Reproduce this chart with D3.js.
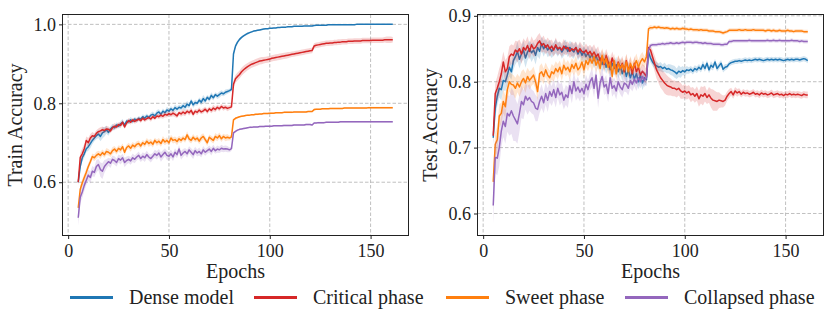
<!DOCTYPE html>
<html>
<head>
<meta charset="utf-8">
<title>Train / Test accuracy</title>
<script src="https://d3js.org/d3.v7.min.js"></script>
<style>
  body { margin: 0; background: #fff; }
</style>
</head>
<body>
<svg id="viz" width="831" height="324"></svg>
<script>
// epochs 5..161, one value per epoch
var epochs = d3.range(5, 162);
var seriesNames = ["Dense model", "Critical phase", "Sweet phase", "Collapsed phase"];
var seriesColors = ["#1f77b4", "#d62728", "#ff7f0e", "#9467bd"];
var xTicks = [0, 50, 100, 150];
var trainTicks = [0.6, 0.8, 1.0];
var testTicks = [0.6, 0.7, 0.8, 0.9];

// all accuracies below are in thousandths (600 = 0.600)
var trainDense = [
  600,640,662,672,685,690,698,706,712,718,
  722,716,725,728,733,726,735,740,738,745,
  742,748,752,745,755,753,758,754,760,757,
  762,760,766,762,768,764,770,772,768,775,
  778,772,780,776,783,780,786,782,789,785,
  790,788,794,790,798,794,806,796,802,800,
  808,803,812,806,815,810,820,814,822,818,
  822,826,824,828,830,832,835,925,945,955,962,
  967,971,974,977,979,981,983,984,985,986,
  987,988,989,989,990,990,991,991,992,992,
  993,993,993,994,994,994,995,995,995,995,
  995,996,996,996,996,996,997,998,998,998,
  998,998,998,999,999,999,999,999,999,999,
  999,999,999,999,999,999,999,1000,1000,1000,
  1000,1000,1000,1000,1000,1000,1000,1000,1000,1000,
  1000,1000,1000,1000,1000,1000];
var trainCritical = [
  600,663,672,685,706,700,712,718,716,724,
  728,730,733,731,735,734,730,738,742,740,
  746,744,752,740,750,756,752,758,754,757,
  760,756,762,758,761,764,760,766,762,768,
  766,770,767,772,770,774,771,775,772,768,
  776,773,778,774,780,776,782,772,780,777,
  783,778,781,785,779,786,782,788,784,790,
  786,792,788,790,787,789,791,848,862,868,873,
  880,885,889,893,896,899,901,903,905,907,
  908,909,910,911,912,914,915,916,917,918,
  919,920,921,922,923,924,925,926,927,928,
  929,930,931,932,933,934,945,947,948,949,
  950,951,952,952,953,953,954,954,955,955,
  956,956,956,957,957,957,958,958,958,958,
  959,959,959,959,959,960,960,960,960,960,
  960,961,961,961,961,961];
var trainSweet = [
  535,582,598,612,625,640,652,665,662,668,
  672,668,675,670,678,676,672,680,684,678,
  686,682,690,676,688,692,686,694,690,696,
  698,692,700,696,704,698,702,696,706,700,
  704,698,708,702,706,700,712,706,708,703,
  710,706,712,708,720,710,706,714,708,712,
  704,712,716,708,700,714,710,706,716,712,
  718,710,716,712,714,712,715,758,762,764,766,
  767,768,769,770,770,771,771,772,772,773,
  773,774,774,774,775,775,775,776,776,776,
  776,777,777,777,777,777,778,778,778,778,
  778,778,778,779,779,779,784,785,785,785,
  786,786,786,786,787,787,787,787,787,787,
  787,788,788,788,788,788,788,788,788,788,
  788,788,788,789,789,789,789,789,789,789,
  789,789,789,789,789,789];
var trainCollapsed = [
  510,562,575,592,605,618,612,628,625,640,
  645,632,628,640,646,652,648,658,655,650,
  660,656,662,650,655,658,654,662,658,664,
  668,660,666,662,670,664,660,666,672,668,
  674,664,670,676,668,666,672,664,676,670,
  684,668,674,678,672,682,676,670,680,674,
  678,672,682,676,680,684,678,686,680,684,
  682,686,684,685,684,682,685,725,729,732,734,
  735,736,737,738,739,739,740,740,740,741,
  741,741,742,742,742,742,743,743,743,743,
  743,744,744,744,744,744,745,745,745,745,
  745,745,746,746,746,745,750,750,751,751,
  751,751,752,752,752,752,752,752,752,753,
  753,753,753,753,753,753,753,753,753,753,
  753,753,753,753,753,753,753,753,753,753,
  753,753,753,753,753,753];

var testDense = [
  715,760,778,790,788,802,800,810,822,815,
  832,838,846,834,842,848,836,845,850,844,
  848,840,852,846,858,850,855,848,852,846,
  850,854,848,852,845,850,854,846,852,848,
  845,852,842,848,840,846,838,844,836,842,
  832,840,830,836,826,834,822,830,818,828,
  820,826,815,824,812,822,808,818,806,815,
  804,812,800,810,798,806,803,845,836,830,826,
  824,822,823,820,822,819,820,818,817,815,
  812,816,814,817,815,818,817,819,816,820,
  818,822,819,826,820,828,818,825,822,830,
  820,824,828,819,822,823,827,829,830,831,
  831,832,831,832,833,832,833,832,833,834,
  833,834,833,832,833,834,833,834,833,834,
  833,834,833,832,833,834,833,834,833,834,
  834,833,834,835,834,832];
var testCritical = [
  718,782,790,800,812,830,815,820,838,842,
  840,848,845,850,842,852,848,855,846,856,
  850,852,858,862,855,858,852,856,850,854,
  848,856,850,852,848,854,850,852,846,850,
  848,852,845,850,846,844,848,842,846,840,
  845,838,842,832,838,826,840,830,822,836,
  826,818,830,820,828,815,832,818,825,812,
  828,815,822,810,816,812,808,852,848,838,828,
  818,812,806,802,798,795,793,792,790,790,
  788,790,786,784,786,783,785,780,782,778,
  782,774,780,778,782,776,780,775,772,771,
  770,772,771,770,772,778,782,785,780,786,
  783,785,781,784,782,783,781,782,784,781,
  782,780,783,781,782,780,781,783,780,781,
  782,780,781,779,781,780,782,780,781,780,
  781,780,779,781,780,780];
var testSweet = [
  648,705,712,748,752,770,762,788,800,796,
  795,790,798,792,800,805,798,808,802,806,
  810,800,785,812,815,808,818,810,806,815,
  812,820,815,822,812,825,818,822,815,826,
  820,828,818,822,830,818,832,826,835,828,
  838,825,832,820,840,828,835,822,830,808,
  832,812,828,820,826,818,830,815,828,820,
  825,832,822,830,835,830,838,880,882,882,883,
  882,883,882,882,881,882,881,880,881,880,
  881,880,880,881,880,880,879,880,879,879,
  879,878,879,878,878,878,877,877,877,876,
  876,876,875,874,875,876,878,878,878,878,
  878,879,878,878,879,878,878,878,879,878,
  878,878,878,878,877,878,878,877,878,877,
  877,878,877,877,877,878,877,877,876,877,
  877,877,877,876,876,876];
var testCollapsed = [
  612,685,684,700,725,740,732,752,748,756,
  748,742,736,752,770,765,778,772,776,770,
  768,760,758,770,778,768,782,772,785,778,
  788,776,790,780,784,772,780,776,794,782,
  800,786,792,784,790,782,796,788,800,806,
  790,810,775,798,808,792,796,782,806,790,
  794,786,800,792,788,798,796,790,802,796,
  804,798,806,800,808,802,806,848,855,856,856,
  856,857,857,858,857,858,858,859,858,858,
  859,858,859,860,859,860,860,860,859,860,
  860,859,859,858,859,858,858,858,857,857,
  857,857,856,856,857,857,861,861,862,862,
  862,862,862,862,862,862,863,862,862,862,
  862,862,862,862,862,863,862,862,863,862,
  862,863,862,862,862,862,862,863,862,862,
  862,861,862,861,861,861];

// std across runs (thousandths), drawn as the shaded band
var trainDenseStd = [
  6,8,10,10,9,10,12,10,8,9, 10,12,14,12,10,8,7,8,6,7,
  6,7,8,6,5,6,7,6,5,6, 6,5,6,7,6,5,6,7,6,8,
  7,6,7,6,8,6,7,6,8,7, 6,7,8,9,8,7,6,8,7,6,
  7,8,9,8,6,7,8,7,6,7, 8,7,6,7,6,5,6,6,5,4,4,
  3,3,3,3,2,2,2,2,2,2, 2,2,2,2,2,1,1,1,1,1,
  1,1,1,1,1,1,1,1,1,1, 1,1,1,1,1,1,1,1,1,1,
  1,1,1,1,1,1,1,1,1,1, 1,1,1,1,1,1,1,1,1,1,
  1,1,1,1,1,1,1,1,1,1, 1,1,1,1,1,1];
var trainCriticalStd = [
  8,12,14,12,10,12,10,9,8,8, 8,9,8,7,8,7,6,7,8,6,
  6,7,6,5,6,7,6,5,6,6, 5,6,5,6,5,6,7,6,5,6,
  6,7,6,8,6,7,6,8,7,6, 6,7,8,7,6,7,8,7,6,7,
  7,6,7,6,7,6,7,8,7,6, 7,6,7,6,7,6,6,10,10,10,10,
  10,10,10,9,9,9,9,9,9,9, 9,8,8,8,8,8,8,8,8,8,
  8,8,8,8,7,7,7,7,7,7, 7,7,7,7,7,7,7,7,7,7,
  7,7,7,7,7,7,7,7,7,7, 7,7,7,7,7,7,7,7,7,7,
  7,7,7,7,7,7,7,7,7,7, 7,7,8,8,8,7];
var trainSweetStd = [
  8,10,10,9,10,8,9,8,8,9, 8,9,8,8,9,8,8,9,8,8,
  8,9,8,8,7,8,9,8,8,8, 8,8,7,8,8,9,8,8,7,8,
  8,8,9,8,8,7,8,8,8,9, 8,8,7,8,9,8,8,8,7,8,
  8,9,8,8,8,7,8,8,9,8, 8,8,7,8,8,6,6,3,3,2,2,
  2,2,2,2,2,2,2,2,2,2, 2,2,2,2,2,2,2,2,2,2,
  2,2,2,2,2,2,2,2,2,2, 2,2,2,2,2,2,2,2,2,2,
  2,2,2,2,2,2,2,2,2,2, 2,2,2,2,2,2,2,2,2,2,
  2,2,2,2,2,2,2,2,2,2, 2,2,2,2,2,2];
var trainCollapsedStd = [
  20,14,15,14,12,14,15,13,12,16, 14,18,20,16,12,10,12,10,11,10,
  10,11,10,12,10,9,10,11,10,9, 10,9,10,11,10,9,10,9,10,11,
  10,12,11,10,12,11,10,11,10,9, 10,11,10,9,10,9,10,11,10,9,
  10,9,10,9,8,9,10,9,8,9, 8,9,8,8,8,6,6,3,3,2,2,
  2,2,2,2,2,2,2,2,2,2, 2,2,2,2,2,2,2,2,2,2,
  2,2,2,2,2,2,2,2,2,2, 2,2,2,2,2,2,2,2,2,2,
  2,2,2,2,2,2,2,2,2,2, 2,2,2,2,2,2,2,2,2,2,
  2,2,2,2,2,2,2,2,2,2, 2,2,2,2,2,2];
var testDenseStd = [
  10,14,15,14,16,15,14,15,14,12, 14,12,15,14,12,14,15,13,12,14,
  12,14,13,12,11,12,10,11,12,10, 10,11,10,9,10,11,10,9,10,11,
  10,9,10,11,10,9,10,11,10,12, 12,11,12,10,11,12,10,11,12,10,
  11,12,10,12,11,12,10,11,12,10, 11,10,12,10,11,10,10,8,7,6,6,
  6,6,7,6,7,6,7,8,8,9, 8,9,8,7,6,6,5,5,5,5,
  5,5,5,6,5,5,5,6,5,5, 5,5,5,5,5,4,4,4,4,4,
  4,4,4,4,4,4,4,4,4,4, 4,4,4,4,4,4,4,4,4,4,
  4,4,4,4,4,4,4,4,4,4, 4,4,4,4,4,4];
var testCriticalStd = [
  12,16,18,20,18,16,18,17,16,15, 15,14,16,14,15,14,13,14,12,13,
  12,13,12,12,11,12,10,11,12,10, 10,11,10,9,10,11,10,9,10,11,
  10,9,10,11,10,9,10,11,10,12, 12,11,12,10,11,12,10,11,12,10,
  11,12,10,12,11,12,10,11,12,10, 11,10,12,10,11,12,11,6,8,10,12,
  13,14,15,15,16,15,14,13,12,12, 12,11,12,10,11,10,10,11,10,10,
  11,12,13,14,12,10,12,14,16,15, 14,12,10,9,8,7,7,6,6,6,
  6,5,5,5,5,5,5,5,5,5, 5,5,5,5,5,5,5,5,5,5,
  5,5,5,5,5,5,5,5,5,5, 5,5,5,5,5,5];
var testSweetStd = [
  14,18,20,18,16,18,17,16,15,16, 15,16,14,15,16,14,15,13,14,12,
  13,12,14,12,13,12,11,12,11,12, 12,11,12,10,11,12,10,11,12,10,
  11,12,10,11,10,12,11,10,11,12, 12,11,10,12,11,12,10,11,12,10,
  11,10,12,11,10,11,12,10,11,10, 10,11,10,11,10,8,8,4,4,3,3,
  3,3,3,3,3,3,3,3,3,3, 3,3,3,3,3,3,3,3,3,3,
  3,3,3,3,3,3,3,3,3,3, 3,3,3,3,3,3,3,3,3,3,
  3,3,3,3,3,3,3,3,3,3, 3,3,3,3,3,3,3,3,3,3,
  3,3,3,3,3,3,3,3,3,3, 3,3,3,3,3,3];
var testCollapsedStd = [
  28,24,26,28,25,24,26,28,30,35, 38,32,30,28,25,22,20,22,20,18,
  18,20,18,17,18,16,17,18,16,15, 16,15,14,16,15,14,15,16,14,15,
  14,15,16,14,13,14,15,14,13,14, 14,13,15,14,13,12,14,13,12,13,
  12,13,12,11,12,13,12,11,12,11, 11,12,11,10,11,10,10,4,3,3,3,
  3,3,3,3,3,3,3,3,3,3, 3,3,3,3,3,3,3,3,3,3,
  3,3,3,3,3,3,3,3,3,3, 3,3,3,3,3,3,3,3,3,3,
  3,3,3,3,3,3,3,3,3,3, 3,3,3,3,3,3,3,3,3,3,
  3,3,3,3,3,3,3,3,3,3, 3,3,3,3,3,3];

var serif = "'Liberation Serif', 'Times New Roman', serif";
var svg = d3.select("#viz");
svg.append("rect").attr("width", 831).attr("height", 324).attr("fill", "#fff");

var plotTop = 14.5, plotBottom = 235.5, plotWidth = 346;

var drawPanel = function(left, yDomain, yTicks, yLabel, means, stds, id) {
  var x = d3.scaleLinear().domain([-2.8, 168.8]).range([left, left + plotWidth]);
  var y = d3.scaleLinear().domain(yDomain).range([plotBottom, plotTop]);
  var g = svg.append("g");

  // dashed grid
  g.selectAll(".vgrid").data(xTicks).enter().append("line")
    .attr("x1", function(d){ return x(d); }).attr("x2", function(d){ return x(d); })
    .attr("y1", plotTop).attr("y2", plotBottom)
    .attr("stroke", "#b0b0b0").attr("stroke-width", 0.8).attr("stroke-dasharray", "3.5,2");
  g.selectAll(".hgrid").data(yTicks).enter().append("line")
    .attr("x1", left).attr("x2", left + plotWidth)
    .attr("y1", function(d){ return y(d); }).attr("y2", function(d){ return y(d); })
    .attr("stroke", "#b0b0b0").attr("stroke-width", 0.8).attr("stroke-dasharray", "3.5,2");

  svg.append("clipPath").attr("id", "clip" + id).append("rect")
    .attr("x", left).attr("y", plotTop).attr("width", plotWidth).attr("height", plotBottom - plotTop);
  var plot = g.append("g").attr("clip-path", "url(#clip" + id + ")");

  means.forEach(function(vals, s) {
    var sd = stds[s];
    var band = d3.area()
      .x(function(d, i){ return x(epochs[i]); })
      .y0(function(d, i){ return y((vals[i] - sd[i]) / 1000); })
      .y1(function(d, i){ return y((vals[i] + sd[i]) / 1000); });
    var line = d3.line()
      .x(function(d, i){ return x(epochs[i]); })
      .y(function(d){ return y(d / 1000); });
    plot.append("path").datum(vals).attr("d", band)
      .attr("fill", seriesColors[s]).attr("fill-opacity", 0.2).attr("stroke", "none");
    plot.append("path").datum(vals).attr("d", line)
      .attr("fill", "none").attr("stroke", seriesColors[s]).attr("stroke-width", 1.5)
      .attr("stroke-linejoin", "round");
  });

  // frame
  g.append("rect").attr("x", left).attr("y", plotTop)
    .attr("width", plotWidth).attr("height", plotBottom - plotTop)
    .attr("fill", "none").attr("stroke", "#222").attr("stroke-width", 1);

  var xAxis = g.append("g").attr("transform", "translate(0," + plotBottom + ")")
    .call(d3.axisBottom(x).tickValues(xTicks).tickSize(3.5).tickPadding(5).tickFormat(d3.format("d")));
  xAxis.select(".domain").remove();
  xAxis.attr("font-family", serif).attr("font-size", 18).attr("color", "#222");

  var yAxis = g.append("g").attr("transform", "translate(" + left + ",0)")
    .call(d3.axisLeft(y).tickValues(yTicks).tickSize(3.5).tickPadding(3).tickFormat(d3.format(".1f")));
  yAxis.select(".domain").remove();
  yAxis.attr("font-family", serif).attr("font-size", 18).attr("color", "#222");

  g.append("text").attr("x", left + plotWidth / 2).attr("y", 277.5)
    .attr("text-anchor", "middle").attr("font-family", serif).attr("font-size", 20)
    .attr("fill", "#222").text("Epochs");
  g.append("text")
    .attr("transform", "translate(" + (left - 41) + "," + ((plotTop + plotBottom) / 2) + ") rotate(-90)")
    .attr("text-anchor", "middle").attr("font-family", serif).attr("font-size", 20)
    .attr("fill", "#222").text(yLabel);
};

drawPanel(62.5, [0.465, 1.025], trainTicks, "Train Accuracy",
  [trainDense, trainCritical, trainSweet, trainCollapsed],
  [trainDenseStd, trainCriticalStd, trainSweetStd, trainCollapsedStd], "L");
drawPanel(477.5, [0.5666, 0.902], testTicks, "Test Accuracy",
  [testDense, testCritical, testSweet, testCollapsed],
  [testDenseStd, testCriticalStd, testSweetStd, testCollapsedStd], "R");

// legend under both panels
var legendX = [70, 254, 446, 625];
var legend = svg.append("g");
seriesNames.forEach(function(name, i) {
  legend.append("line").attr("x1", legendX[i]).attr("x2", legendX[i] + 43)
    .attr("y1", 297.5).attr("y2", 297.5)
    .attr("stroke", seriesColors[i]).attr("stroke-width", 3);
  legend.append("text").attr("x", legendX[i] + 59).attr("y", 304)
    .attr("font-family", serif).attr("font-size", 20).attr("fill", "#222").text(name);
});
</script>
</body>
</html>
